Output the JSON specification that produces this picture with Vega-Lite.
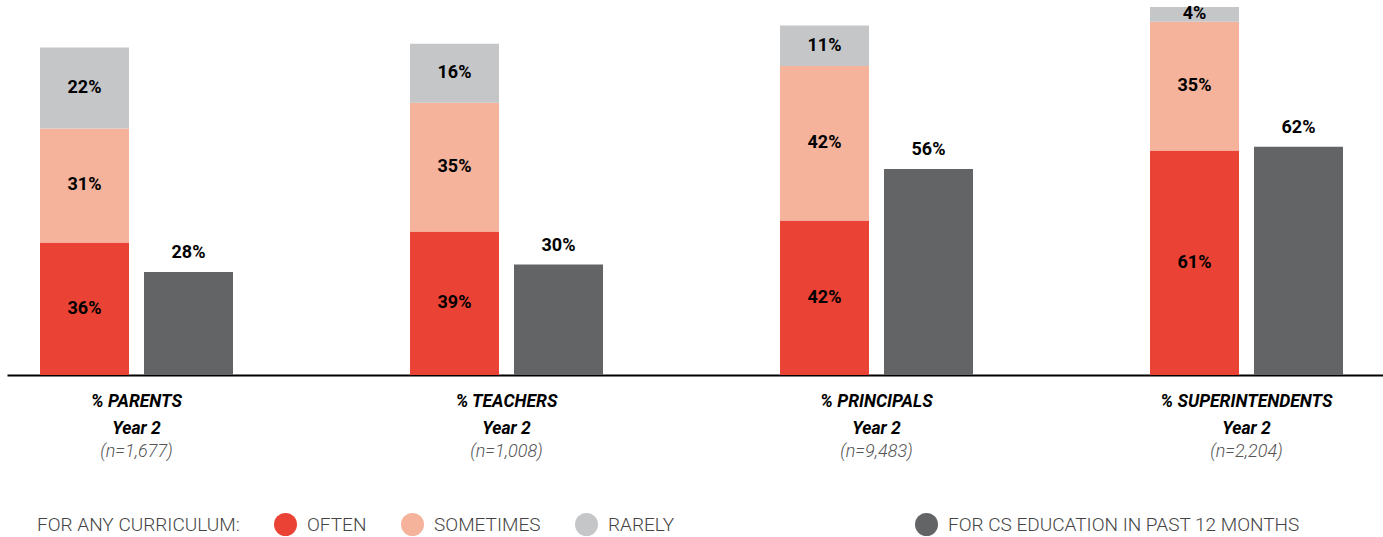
{
  "$schema": "https://vega.github.io/schema/vega-lite/v6.json",
  "width": 1376,
  "height": 368,
  "autosize": {"type": "none"},
  "padding": {"left": 7, "top": 7, "right": 0, "bottom": 162},
  "background": "white",
  "config": {
    "view": {"stroke": null},
    "font": "Roboto"
  },
  "datasets": {
    "stack": [
      {"group": "% PARENTS", "cat": "OFTEN", "order": 1, "value": 36, "bar": "stack"},
      {"group": "% PARENTS", "cat": "SOMETIMES", "order": 2, "value": 31, "bar": "stack"},
      {"group": "% PARENTS", "cat": "RARELY", "order": 3, "value": 22, "bar": "stack"},
      {"group": "% TEACHERS", "cat": "OFTEN", "order": 1, "value": 39, "bar": "stack"},
      {"group": "% TEACHERS", "cat": "SOMETIMES", "order": 2, "value": 35, "bar": "stack"},
      {"group": "% TEACHERS", "cat": "RARELY", "order": 3, "value": 16, "bar": "stack"},
      {"group": "% PRINCIPALS", "cat": "OFTEN", "order": 1, "value": 42, "bar": "stack"},
      {"group": "% PRINCIPALS", "cat": "SOMETIMES", "order": 2, "value": 42, "bar": "stack"},
      {"group": "% PRINCIPALS", "cat": "RARELY", "order": 3, "value": 11, "bar": "stack"},
      {"group": "% SUPERINTENDENTS", "cat": "OFTEN", "order": 1, "value": 61, "bar": "stack"},
      {"group": "% SUPERINTENDENTS", "cat": "SOMETIMES", "order": 2, "value": 35, "bar": "stack"},
      {"group": "% SUPERINTENDENTS", "cat": "RARELY", "order": 3, "value": 4, "bar": "stack"}
    ],
    "cs": [
      {"group": "% PARENTS", "series": "FOR CS EDUCATION IN PAST 12 MONTHS", "value": 28, "bar": "cs"},
      {"group": "% TEACHERS", "series": "FOR CS EDUCATION IN PAST 12 MONTHS", "value": 30, "bar": "cs"},
      {"group": "% PRINCIPALS", "series": "FOR CS EDUCATION IN PAST 12 MONTHS", "value": 56, "bar": "cs"},
      {"group": "% SUPERINTENDENTS", "series": "FOR CS EDUCATION IN PAST 12 MONTHS", "value": 62, "bar": "cs"}
    ],
    "groups": [
      {"group": "% PARENTS", "n": "(n=1,677)"},
      {"group": "% TEACHERS", "n": "(n=1,008)"},
      {"group": "% PRINCIPALS", "n": "(n=9,483)"},
      {"group": "% SUPERINTENDENTS", "n": "(n=2,204)"}
    ]
  },
  "resolve": {"scale": {"color": "independent"}},
  "layer": [
    {
      "data": {"name": "stack"},
      "mark": {"type": "bar"},
      "encoding": {
        "x": {
          "field": "group", "type": "nominal",
          "scale": {"type": "band", "domain": ["% PARENTS", "% TEACHERS", "% PRINCIPALS", "% SUPERINTENDENTS"], "paddingInner": 0.3, "paddingOuter": 0.00946, "align": 0},
          "axis": {
            "title": null, "ticks": false, "labelAngle": 0,
            "domainColor": "#000000", "domainWidth": 2,
            "labelExpr": "[datum.label, 'Year 2']",
            "labelFont": "Roboto", "labelFontWeight": "bold", "labelFontStyle": "italic",
            "labelFontSize": 17.5, "labelColor": "#000000", "labelLineHeight": 27,
            "labelPadding": 17
          }
        },
        "xOffset": {
          "field": "bar", "type": "nominal",
          "scale": {"domain": ["stack", "cs"], "paddingInner": 0.1442, "paddingOuter": 0.3173}
        },
        "y": {
          "field": "value", "type": "quantitative", "stack": "zero",
          "scale": {"domain": [0, 100], "nice": false, "zero": true},
          "axis": null
        },
        "order": {"field": "order", "type": "quantitative"},
        "color": {
          "field": "cat", "type": "nominal",
          "scale": {"domain": ["OFTEN", "SOMETIMES", "RARELY"], "range": ["#EA4335", "#F5B39C", "#C5C6C8"]},
          "legend": {
            "orient": "none", "legendX": 30, "legendY": 506,
            "direction": "horizontal",
            "title": "FOR ANY CURRICULUM:", "titleOrient": "left", "titleLimit": 400,
            "titleFont": "Roboto", "titleFontWeight": 300, "titleFontSize": 19, "titleColor": "#444444",
            "titlePadding": 34,
            "symbolType": "circle", "symbolSize": 529, "symbolStrokeWidth": 0, "symbolOpacity": 1,
            "labelFont": "Roboto", "labelFontWeight": 300, "labelFontSize": 19, "labelColor": "#444444",
            "labelOffset": 10, "columnPadding": 34
          }
        }
      }
    },
    {
      "data": {"name": "stack"},
      "transform": [
        {"stack": "value", "groupby": ["group"], "sort": [{"field": "order", "order": "ascending"}], "as": ["y0", "y1"]},
        {"calculate": "(datum.y0 + datum.y1) / 2", "as": "mid"},
        {"calculate": "datum.value + '%'", "as": "label"}
      ],
      "mark": {"type": "text", "font": "Roboto", "fontWeight": "bold", "fontSize": 18, "color": "#000000", "baseline": "middle", "align": "center"},
      "encoding": {
        "x": {"field": "group", "type": "nominal"},
        "xOffset": {"field": "bar", "type": "nominal"},
        "y": {"field": "mid", "type": "quantitative"},
        "text": {"field": "label", "type": "nominal"}
      }
    },
    {
      "data": {"name": "cs"},
      "mark": {"type": "bar"},
      "encoding": {
        "x": {"field": "group", "type": "nominal"},
        "xOffset": {"field": "bar", "type": "nominal"},
        "y": {"field": "value", "type": "quantitative"},
        "color": {
          "field": "series", "type": "nominal",
          "scale": {"range": ["#636466"]},
          "legend": {
            "orient": "none", "legendX": 908, "legendY": 506,
            "title": null,
            "symbolType": "circle", "symbolSize": 529, "symbolStrokeWidth": 0, "symbolOpacity": 1,
            "labelFont": "Roboto", "labelFontWeight": 300, "labelFontSize": 19, "labelColor": "#444444",
            "labelOffset": 10, "labelLimit": 600
          }
        }
      }
    },
    {
      "data": {"name": "cs"},
      "transform": [
        {"calculate": "datum.value + '%'", "as": "label"}
      ],
      "mark": {"type": "text", "font": "Roboto", "fontWeight": "bold", "fontSize": 18, "color": "#000000", "baseline": "middle", "align": "center", "dy": -19},
      "encoding": {
        "x": {"field": "group", "type": "nominal"},
        "xOffset": {"field": "bar", "type": "nominal"},
        "y": {"field": "value", "type": "quantitative"},
        "text": {"field": "label", "type": "nominal"}
      }
    },
    {
      "data": {"name": "groups"},
      "mark": {"type": "text", "font": "Roboto", "fontWeight": 300, "fontStyle": "italic", "fontSize": 18, "color": "#555555", "baseline": "middle", "align": "center", "dy": 77},
      "encoding": {
        "x": {"field": "group", "type": "nominal"},
        "y": {"datum": 0, "type": "quantitative"},
        "text": {"field": "n", "type": "nominal"}
      }
    }
  ]
}
